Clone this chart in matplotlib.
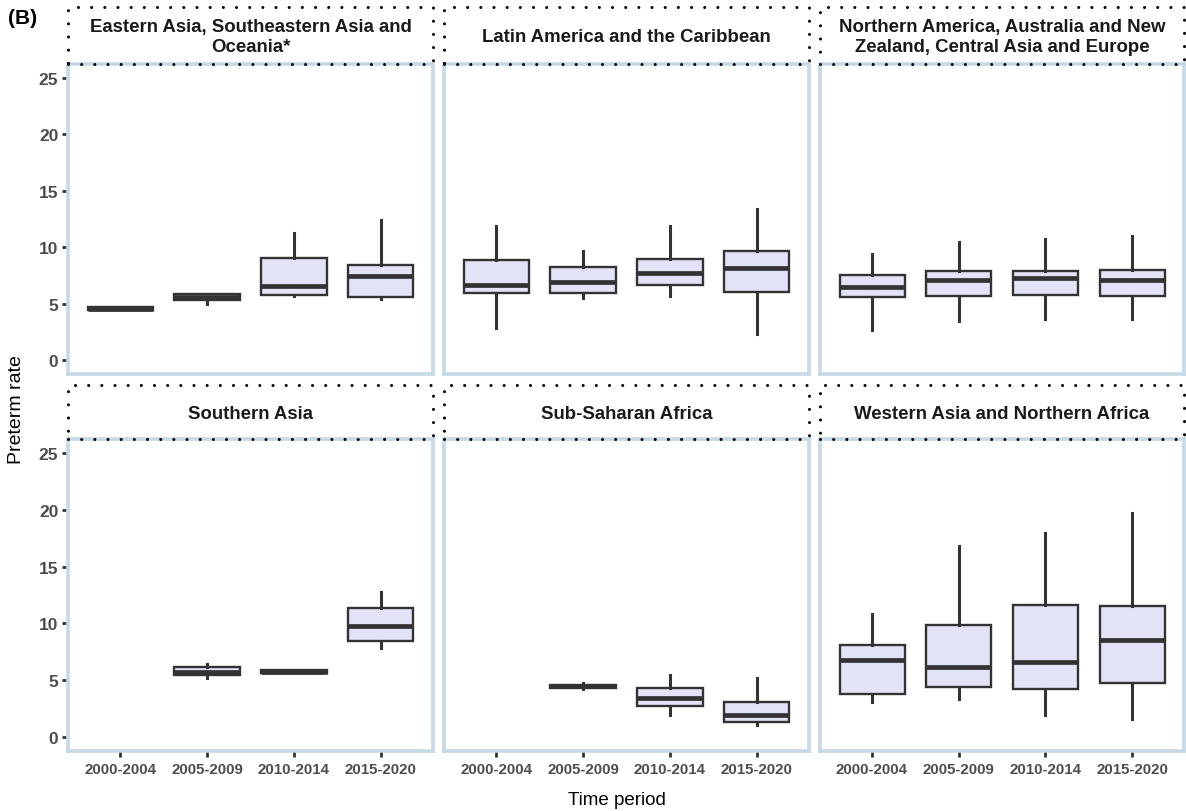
import numpy as np
import matplotlib
matplotlib.use("Agg")
import matplotlib.pyplot as plt

plt.rcParams["font.family"] = ["Liberation Sans", "DejaVu Sans"]

periods = ["2000-2004", "2005-2009", "2010-2014", "2015-2020"]
regions = [
    "Eastern Asia, Southeastern Asia and\nOceania*",
    "Latin America and the Caribbean",
    "Northern America, Australia and New\nZealand, Central Asia and Europe",
    "Southern Asia",
    "Sub-Saharan Africa",
    "Western Asia and Northern Africa",
]

nan = np.nan
# box stats per region, one value per period (nan = no data)
whislo = [
    [4.4, 4.95, 5.7, 5.4],
    [2.8, 5.5, 5.7, 2.3],
    [2.65, 3.45, 3.6, 3.6],
    [nan, 5.15, 5.6, 7.85],
    [nan, 4.2, 1.9, 1.05],
    [3.05, 3.35, 1.9, 1.55],
]
q1 = [
    [4.4, 5.35, 5.8, 5.6],
    [5.9, 5.9, 6.65, 6.05],
    [5.55, 5.7, 5.75, 5.7],
    [nan, 5.45, 5.65, 8.45],
    [nan, 4.3, 2.7, 1.3],
    [3.75, 4.4, 4.2, 4.75],
]
median = [
    [4.55, 5.55, 6.55, 7.4],
    [6.65, 6.95, 7.7, 8.15],
    [6.5, 7.1, 7.25, 7.1],
    [nan, 5.75, 5.75, 9.8],
    [nan, 4.45, 3.4, 1.95],
    [6.8, 6.15, 6.6, 8.5],
]
q3 = [
    [4.7, 5.85, 9.05, 8.45],
    [8.85, 8.2, 8.95, 9.65],
    [7.55, 7.85, 7.85, 7.95],
    [nan, 6.15, 5.9, 11.35],
    [nan, 4.6, 4.3, 3.1],
    [8.1, 9.85, 11.65, 11.5],
]
whishi = [
    [4.7, 5.85, 11.25, 12.4],
    [11.9, 9.7, 11.9, 13.4],
    [9.4, 10.5, 10.75, 11.0],
    [nan, 6.4, 5.9, 12.75],
    [nan, 4.7, 5.45, 5.2],
    [10.85, 16.85, 18.0, 19.75],
]

W, H = 1186, 812
fig = plt.figure(figsize=(W / 100, H / 100), dpi=100)

cols = [(68, 433), (444, 809), (820, 1184)]
rows = [(65, 375), (440, 752)]
strips = [(8, 65), (386, 440)]

spine_col = "#c5d9e6"
dark = "#333333"


def px_axes(x0, x1, y0, y1):
    return fig.add_axes([x0 / W, 1 - y1 / H, (x1 - x0) / W, (y1 - y0) / H])


for i, region in enumerate(regions):
    r, c = divmod(i, 3)
    x0, x1 = cols[c]
    ax = px_axes(x0, x1, rows[r][0], rows[r][1])

    stats = []
    pos = []
    for j in range(len(periods)):
        if np.isnan(median[i][j]):
            continue
        stats.append(dict(whislo=whislo[i][j], q1=q1[i][j], med=median[i][j],
                          q3=q3[i][j], whishi=whishi[i][j], fliers=[]))
        pos.append(j + 1)
    ax.bxp(stats, positions=pos, widths=0.75, patch_artist=True,
           showcaps=False, showfliers=False,
           boxprops=dict(facecolor="#e3e3f8", edgecolor=dark, linewidth=1.7),
           whiskerprops=dict(color=dark, linewidth=2.2),
           medianprops=dict(color=dark, linewidth=3.4, solid_capstyle="butt"))

    ax.set_xlim(0.4, 4.6)
    ax.set_ylim(-1.25, 26.25)
    ax.set_xticks(range(1, 5))
    ax.set_yticks([0, 5, 10, 15, 20, 25])
    for s in ax.spines.values():
        s.set_color(spine_col)
        s.set_linewidth(2.6)

    if r == 1:
        ax.set_xticklabels(periods, fontsize=10.8, fontweight="bold", color="#4d4d4d")
        ax.tick_params(axis="x", length=4, width=2, color=dark, pad=4)
    else:
        ax.tick_params(axis="x", length=0, labelbottom=False)
    if c == 0:
        ax.set_yticklabels([str(v) for v in [0, 5, 10, 15, 20, 25]],
                           fontsize=12.5, fontweight="bold", color="#4d4d4d")
        ax.tick_params(axis="y", length=4, width=2, color=dark, pad=3)
    else:
        ax.tick_params(axis="y", length=0, labelleft=False)

    # strip header with dotted border
    sy0, sy1 = strips[r]
    sax = px_axes(x0, x1, sy0, sy1)
    sax.set_axis_off()
    sax.plot([0, 1, 1, 0, 0], [0, 0, 1, 1, 0], transform=sax.transAxes,
             color="black", linewidth=2.2, linestyle=(0, (0.01, 4.3)),
             dash_capstyle="round", clip_on=False)
    sax.text(0.5, 0.48, region, transform=sax.transAxes, ha="center", va="center",
             fontsize=13.4, fontweight="bold", color="#1a1a1a", linespacing=1.28)

fig.text(8 / W, 1 - 18 / H, "(B)", fontsize=15, fontweight="bold", va="center", ha="left")
fig.text(17 / W, 1 - 410 / H, "Preterm rate", fontsize=14, rotation=90,
         ha="center", va="center")
fig.text(617 / W, 1 - 801 / H, "Time period", fontsize=13.5, ha="center", va="center")

fig.savefig("out.png", dpi=100)
